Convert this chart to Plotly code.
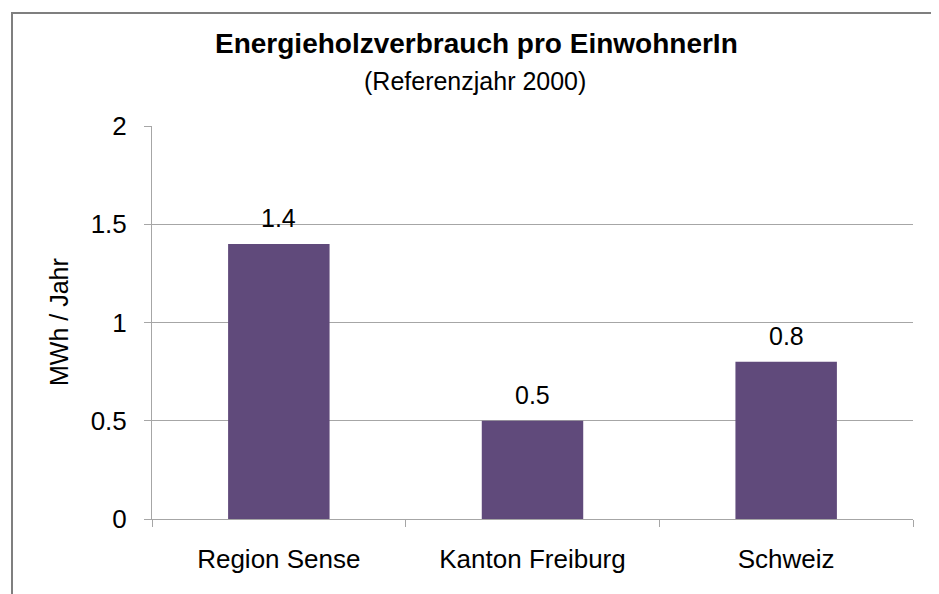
import plotly.graph_objects as go

# data
categories = ["Region Sense", "Kanton Freiburg", "Schweiz"]
values = [1.4, 0.5, 0.8]
y_ticks = [0, 0.5, 1, 1.5, 2]
y_ticklabels = ["0", "0.5", "1", "1.5", "2"]

TITLE = "<b>Energieholzverbrauch pro EinwohnerIn</b>"
SUBTITLE = "(Referenzjahr 2000)"
Y_TITLE = "MWh / Jahr"

BAR_COLOR = "#604A7B"
GRID_COLOR = "#A6A6A6"
FONT = "Liberation Sans, Arial, sans-serif"

# page body has an 8px margin, so the figure starts at (8, 8)
OFFSET = 8
W, H = 939 - OFFSET, 594 - OFFSET
M_L, M_R, M_T, M_B = 152 - OFFSET, 26, 126 - OFFSET, 75
plot_w = W - M_L - M_R
plot_h = H - M_T - M_B


def px_to_paper_x(px):
    # px measured in page pixels
    return (px - OFFSET - M_L) / plot_w


def px_to_paper_y(py):
    return (H - M_B - (py - OFFSET)) / plot_h


fig = go.Figure()
fig.add_trace(
    go.Bar(
        x=categories,
        y=values,
        marker=dict(color=BAR_COLOR, line=dict(width=0)),
        hoverinfo="x+y",
    )
)

# value labels above bars
for cat, val in zip(categories, values):
    fig.add_annotation(
        x=cat,
        y=val,
        text=f"{val}",
        showarrow=False,
        yshift=26,
        font=dict(size=25, color="black", family=FONT),
    )

# title + subtitle
fig.add_annotation(
    xref="paper", yref="paper",
    x=px_to_paper_x(476), y=px_to_paper_y(43),
    xanchor="center", yanchor="middle",
    text=TITLE, showarrow=False,
    font=dict(size=28, color="black", family=FONT),
)
fig.add_annotation(
    xref="paper", yref="paper",
    x=px_to_paper_x(475), y=px_to_paper_y(81),
    xanchor="center", yanchor="middle",
    text=SUBTITLE, showarrow=False,
    font=dict(size=25, color="black", family=FONT),
)

# y axis title
fig.add_annotation(
    xref="paper", yref="paper",
    x=px_to_paper_x(59), y=px_to_paper_y(322),
    xanchor="center", yanchor="middle",
    text=Y_TITLE, showarrow=False, textangle=-90,
    font=dict(size=25, color="black", family=FONT),
)

# outer frame (left + top edges visible)
fig.add_shape(
    type="rect",
    xref="paper", yref="paper",
    x0=px_to_paper_x(12), x1=px_to_paper_x(960),
    y0=px_to_paper_y(620), y1=px_to_paper_y(13),
    line=dict(color="#7F7F7F", width=2),
    fillcolor="rgba(0,0,0,0)",
    layer="below",
)

fig.update_layout(
    width=W,
    height=H,
    margin=dict(l=M_L, r=M_R, t=M_T, b=M_B),
    paper_bgcolor="white",
    plot_bgcolor="white",
    bargap=0.6,
    showlegend=False,
    font=dict(family=FONT, size=26, color="black"),
)
fig.update_xaxes(
    showline=True,
    linecolor=GRID_COLOR,
    linewidth=1,
    ticks="outside",
    tickson="boundaries",
    ticklen=7,
    tickcolor=GRID_COLOR,
    showgrid=False,
    tickfont=dict(size=26),
    ticklabelstandoff=17,
)
fig.update_yaxes(
    range=[0, 2],
    tickvals=y_ticks,
    ticktext=y_ticklabels,
    showgrid=True,
    gridcolor=GRID_COLOR,
    gridwidth=1,
    showline=True,
    linecolor=GRID_COLOR,
    ticks="outside",
    ticklen=7,
    tickcolor=GRID_COLOR,
    zeroline=False,
    tickfont=dict(size=26),
    ticklabelstandoff=12,
)

fig.write_html("out.html")
